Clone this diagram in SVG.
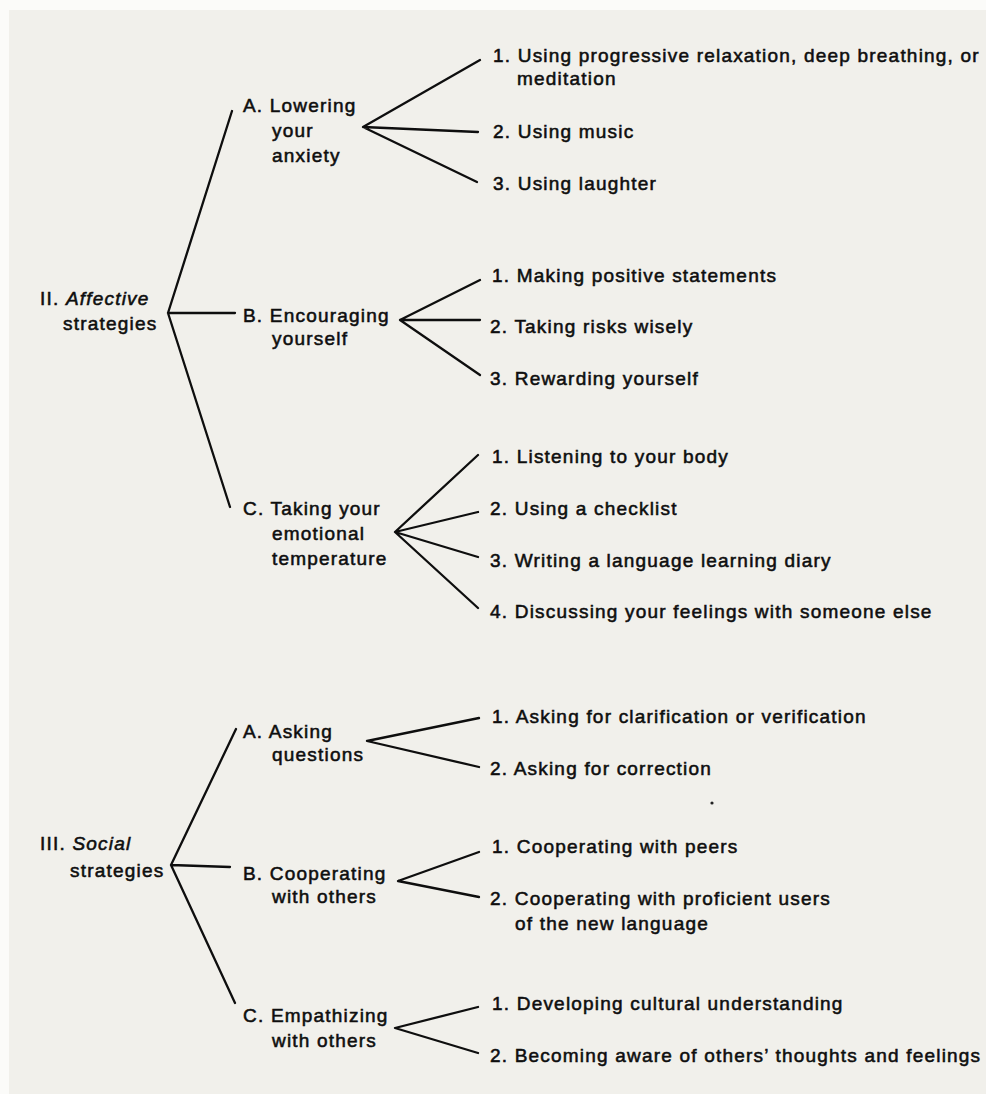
<svg xmlns="http://www.w3.org/2000/svg" width="986" height="1094" viewBox="0 0 986 1094">
<style>
.t{font-family:"Liberation Sans",Arial,Helvetica,sans-serif;font-size:19px;letter-spacing:1.2px;fill:#0e0e0e;stroke:#0e0e0e;stroke-width:0.55}
.i{font-style:italic}
.c{stroke:#0e0e0e;stroke-width:2.3;fill:none;stroke-linecap:round;stroke-linejoin:round}
</style>
<rect x="0" y="0" width="986" height="1094" fill="#fbfbf9"/>
<rect x="9" y="10" width="977" height="1084" fill="#f1f0eb"/>
<g id="connectors" class="c">
<path d="M232,111 L168,313 L235,313 M168,313 L230,507"/>
<path d="M480,60 L363,127 L478,132 M363,127 L477,182"/>
<path d="M480,280 L400,320 L480,320 M400,320 L480,375"/>
<path d="M478,455 L395,532 L478,512 M395,532 L478,557 M395,532 L478,608"/>
<path d="M236,729 L171,865 L230,867 M171,865 L235,1003"/>
<path d="M479,718 L367,741 L479,767"/>
<path d="M479,852 L398,881 L479,897"/>
<path d="M478,1007 L395,1028 L478,1053"/>
</g>
<g id="affective">
<text class="t" x="40" y="305">II. <tspan class="i">Affective</tspan></text>
<text class="t" x="63" y="330">strategies</text>
</g>
<g id="aff-A">
<text class="t" x="243" y="112">A. Lowering</text>
<text class="t" x="272" y="137">your</text>
<text class="t" x="272" y="162">anxiety</text>
</g>
<g id="aff-A1"><text class="t" x="493" y="62">1. Using progressive relaxation, deep breathing, or</text><text class="t" x="517" y="85">meditation</text></g>
<g id="aff-A2"><text class="t" x="493" y="138">2. Using music</text></g>
<g id="aff-A3"><text class="t" x="493" y="190">3. Using laughter</text></g>
<g id="aff-B">
<text class="t" x="243" y="322">B. Encouraging</text>
<text class="t" x="272" y="345">yourself</text>
</g>
<g id="aff-B1"><text class="t" x="492" y="282">1. Making positive statements</text></g>
<g id="aff-B2"><text class="t" x="490" y="333">2. Taking risks wisely</text></g>
<g id="aff-B3"><text class="t" x="490" y="385">3. Rewarding yourself</text></g>
<g id="aff-C">
<text class="t" x="243" y="515">C. Taking your</text>
<text class="t" x="272" y="540">emotional</text>
<text class="t" x="272" y="565">temperature</text>
</g>
<g id="aff-C1"><text class="t" x="492" y="463">1. Listening to your body</text></g>
<g id="aff-C2"><text class="t" x="490" y="515">2. Using a checklist</text></g>
<g id="aff-C3"><text class="t" x="490" y="567">3. Writing a language learning diary</text></g>
<g id="aff-C4"><text class="t" x="490" y="618">4. Discussing your feelings with someone else</text></g>
<g id="social">
<text class="t" x="40" y="850">III. <tspan class="i">Social</tspan></text>
<text class="t" x="70" y="877">strategies</text>
</g>
<g id="soc-A">
<text class="t" x="243" y="738">A. Asking</text>
<text class="t" x="272" y="761">questions</text>
</g>
<g id="soc-A1"><text class="t" x="492" y="723">1. Asking for clarification or verification</text></g>
<g id="soc-A2"><text class="t" x="490" y="775">2. Asking for correction</text></g>
<g id="soc-B">
<text class="t" x="243" y="880">B. Cooperating</text>
<text class="t" x="272" y="903">with others</text>
</g>
<g id="soc-B1"><text class="t" x="492" y="853">1. Cooperating with peers</text></g>
<g id="soc-B2"><text class="t" x="490" y="905">2. Cooperating with proficient users</text><text class="t" x="515" y="930">of the new language</text></g>
<g id="soc-C">
<text class="t" x="243" y="1022">C. Empathizing</text>
<text class="t" x="272" y="1047">with others</text>
</g>
<g id="soc-C1"><text class="t" x="492" y="1010">1. Developing cultural understanding</text></g>
<g id="soc-C2"><text class="t" x="490" y="1062">2. Becoming aware of others’ thoughts and feelings</text></g>
<circle cx="712" cy="803" r="1.6" fill="#222"/>
</svg>
